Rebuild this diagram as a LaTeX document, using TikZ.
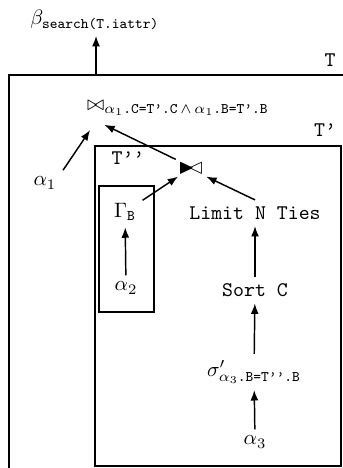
\documentclass[tikz,border=0pt]{standalone}
\usepackage{amsmath,amssymb}
\usepackage{tikz}
\usetikzlibrary{arrows.meta,positioning,calc}
\tikzset{
  opnode/.style={inner sep=3pt,align=center},
  semisym/.style={inner sep=1pt},
  scopebox/.style={draw=black,line width=1pt},
  scopelabel/.style={inner sep=1pt,font=\ttfamily},
  flowarr/.style={-{Latex[length=5pt,width=3.8pt]},line width=0.7pt}
}
\newcommand{\tq}{\textquoteright}
\newcommand{\semij}{\mathord{\blacktriangleright}\mkern-6mu\mathord{\vartriangleleft}}
\begin{document}
\begin{tikzpicture}[x=1cm,y=1cm]
  \useasboundingbox (0,0) rectangle (5.786,7.895);
  \clip (0,0) rectangle (5.786,7.895);
  % nested scopes
  \draw[scopebox] (0.152,-0.5) rectangle (6.5,6.630);
  \node[scopelabel] (tlab) at (5.567,6.883) {T};
  \draw[scopebox] (1.603,0.03) rectangle (5.76,5.432);
  \node[scopelabel] (tplab) at (5.483,5.702) {T\tq};
  \draw[scopebox] (1.670,2.632) rectangle (2.598,4.757);
  \node[scopelabel] (tpplab) at (2.159,5.230) {T\tq\tq};

  % operators
  \node[opnode,anchor=west] (beta) at (0.40,7.56) {$\beta_{\texttt{search(T.iattr)}}$};
  \coordinate (tout) at (1.620,6.630);
  \node[opnode] (join) at (3.0,6.073)
    {$\bowtie_{\alpha_1\texttt{.C=T\tq.C}\,\wedge\,\alpha_1\texttt{.B=T\tq.B}}$};
  \coordinate (joinl) at (1.52,5.70);
  \coordinate (joinr) at (1.76,5.79);
  \node[opnode] (a1) at (0.759,4.808) {$\alpha_1$};
  \node[semisym] (semi) at (3.222,5.061) {$\semij$};
  \node[opnode] (gam) at (2.109,4.319) {$\Gamma_{\texttt{B}}$};
  \node[opnode] (a2) at (2.126,3.037) {$\alpha_2$};
  \node[opnode,font=\ttfamily] (lim) at (4.302,4.302) {Limit N Ties};
  \node[opnode,font=\ttfamily] (sort) at (4.302,3.0) {Sort C};
  \node[opnode] (sig) at (4.285,1.62) {$\sigma'_{\alpha_3\texttt{.B=T\tq\tq.B}}$};
  \node[opnode] (a3) at (4.302,0.439) {$\alpha_3$};

  % connectors
  \draw[flowarr] (tout) -- (tout |- beta.south);
  \draw[flowarr] (a1.north east) -- (joinl);
  \draw[flowarr] (semi.north west) -- (joinr);
  \draw[flowarr] (gam) -- (semi);
  \draw[flowarr] (lim.north) -- (semi.south east);
  \draw[flowarr] (a2) -- (gam);
  \draw[flowarr] (sort) -- (lim);
  \draw[flowarr] (sig) -- (sort);
  \draw[flowarr] (a3) -- (sig);
\end{tikzpicture}
\end{document}
